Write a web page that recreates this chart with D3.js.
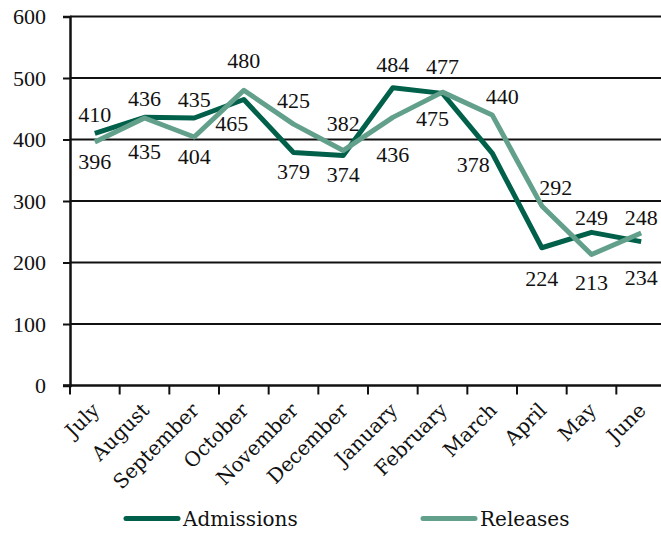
<!DOCTYPE html>
<html>
<head>
<meta charset="utf-8">
<script src="https://d3js.org/d3.v7.min.js"></script>
<style>
  body { margin: 0; background: #fff; }
</style>
</head>
<body>
<script>
var months = ["July", "August", "September", "October", "November", "December",
              "January", "February", "March", "April", "May", "June"];
var admissions = [410, 436, 435, 465, 379, 374, 484, 475, 378, 224, 249, 234];
var releases = [396, 435, 404, 480, 425, 382, 436, 477, 440, 292, 213, 248];
var yTicks = [0, 100, 200, 300, 400, 500, 600];

var svgWidth = 661;
var svgHeight = 535;
var darkGreen = "#00604a";
var lightGreen = "#62a08c";
var numFont = "'Liberation Serif', serif";
var wordFont = "'DejaVu Serif', serif";

// label nudges where Excel moved a label away from the plain above/below spot
var nudges = {
    Admissions: { 3: [-12, 5], 6: [0, -5], 7: [-10, 6], 8: [-19, -8], 9: [0, 12], 10: [0, 4], 11: [0, 17] },
    Releases: { 1: [0, 14], 3: [0, -11], 4: [0, -5], 5: [0, -8], 6: [0, 18], 7: [0, -7], 8: [10, 0], 9: [14, 0], 10: [0, 9], 11: [0, 3] }
};

var series = [
    { name: "Admissions", values: admissions, other: releases, color: darkGreen },
    { name: "Releases", values: releases, other: admissions, color: lightGreen }
];

var svg = d3.select("body")
    .append("svg")
    .attr("width", svgWidth)
    .attr("height", svgHeight);

var x = d3.scaleBand().domain(months).range([70, 666]);
var y = d3.scaleLinear().domain([0, 600]).range([385.5, 16.5]);

// gridlines
svg.append("g")
    .selectAll("line")
    .data(yTicks.slice(1))
    .enter()
    .append("line")
    .attr("x1", 70)
    .attr("x2", svgWidth)
    .attr("y1", function (d) { return y(d); })
    .attr("y2", function (d) { return y(d); })
    .attr("stroke", "#111")
    .attr("stroke-width", 2);

// y axis
var yAxis = svg.append("g")
    .attr("transform", "translate(70,0)")
    .call(d3.axisLeft(y).tickValues(yTicks).tickSize(7).tickPadding(17));
yAxis.select(".domain").attr("stroke", "#111").attr("stroke-width", 2.5);
yAxis.selectAll(".tick line").attr("stroke", "#111").attr("stroke-width", 2);
yAxis.selectAll("text")
    .style("font-family", numFont)
    .style("font-size", "22px")
    .attr("fill", "#111");

// x axis: ticks between categories
var xAxis = svg.append("g")
    .attr("transform", "translate(0,385.5)");
xAxis.append("line")
    .attr("x1", 63).attr("x2", svgWidth)
    .attr("stroke", "#111").attr("stroke-width", 2.5);
xAxis.selectAll(".tk")
    .data(months)
    .enter()
    .append("line")
    .attr("class", "tk")
    .attr("x1", function (d) { return x(d); })
    .attr("x2", function (d) { return x(d); })
    .attr("y1", 0).attr("y2", 9)
    .attr("stroke", "#111").attr("stroke-width", 2);
xAxis.selectAll("text")
    .data(months)
    .enter()
    .append("text")
    .text(function (d) { return d; })
    .attr("transform", function (d) {
        return "translate(" + (x(d) + x.bandwidth() / 2 + 6) + ",26) rotate(-45)";
    })
    .attr("text-anchor", "end")
    .style("font-family", wordFont)
    .style("font-size", "20px")
    .attr("fill", "#111");

// lines
var line = d3.line()
    .x(function (d, i) { return x(months[i]) + x.bandwidth() / 2; })
    .y(function (d) { return y(d); });

series.forEach(function (s) {
    svg.append("path")
        .datum(s.values)
        .attr("d", line)
        .attr("fill", "none")
        .attr("stroke", s.color)
        .attr("stroke-width", 5)
        .attr("stroke-linejoin", "round");
});

// data labels
series.forEach(function (s) {
    svg.append("g")
        .selectAll("text")
        .data(s.values)
        .enter()
        .append("text")
        .text(function (d) { return d; })
        .attr("x", function (d, i) {
            var n = nudges[s.name][i] || [0, 0];
            return x(months[i]) + x.bandwidth() / 2 + n[0];
        })
        .attr("y", function (d, i) {
            var n = nudges[s.name][i] || [0, 0];
            var off = d > s.other[i] ? -19 : 19;
            return y(d) + off + n[1];
        })
        .attr("dy", "0.35em")
        .attr("text-anchor", "middle")
        .style("font-family", numFont)
        .style("font-size", "22px")
        .attr("fill", "#111");
});

// legend
var legend = svg.append("g");
var legendItems = [
    { name: "Admissions", color: darkGreen, x: 126 },
    { name: "Releases", color: lightGreen, x: 423 }
];
legendItems.forEach(function (l) {
    legend.append("line")
        .attr("x1", l.x).attr("x2", l.x + 52)
        .attr("y1", 518.5).attr("y2", 518.5)
        .attr("stroke", l.color)
        .attr("stroke-width", 5)
        .attr("stroke-linecap", "round");
    legend.append("text")
        .attr("x", l.x + 57)
        .attr("y", 518.5)
        .attr("dy", "0.35em")
        .style("font-family", wordFont)
        .style("font-size", "20px")
        .attr("fill", "#111")
        .text(l.name);
});
</script>
</body>
</html>
